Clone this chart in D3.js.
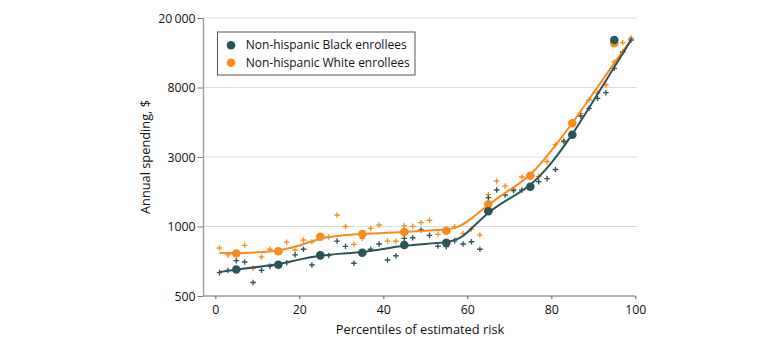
<!DOCTYPE html>
<html>
  <head>
    <meta charset="utf-8">
    <title>Annual spending by percentile of estimated risk</title>
    <script src="https://d3js.org/d3.v7.min.js" charset="utf-8"></script>
    <style>
      body{
        margin: 0;
        background: #fff;
        font-family: 'Open Sans', sans-serif;
      }
      svg text{
        font-family: 'Open Sans', sans-serif;
        fill: #111;
      }
    </style>
  </head>
  <body>
    <div id="chart"></div>
    <script>

    //********************
    // data
    //********************

    var xTicks = [0, 20, 40, 60, 80, 100];
    var yTicks = [500, 1000, 3000, 8000, 20000];
    var yTickLabels = ["500", "1000", "3000", "8000", "20\u2009000"];

    var seriesNames = ["Non-hispanic Black enrollees", "Non-hispanic White enrollees"];

    // percentile markers (+)
    var pctX = [1,3,5,7,9,11,13,15,17,19,21,23,25,27,29,31,33,35,37,39,41,43,45,47,49,
                51,53,55,57,59,61,63,65,67,69,71,73,75,77,79,81,83,85,87,89,91,93,95,97,99];
    var blackPct = [631,645,711,702,572,646,672,683,697,754,797,681,749,749,865,821,693,772,797,840,716,747,889,894,966,
                    916,823,818,867,840,859,797,1577,1781,1645,1767,1781,1838,2030,2132,2462,3723,4092,5351,5965,6869,7434,10304,12776,14966];
    var whitePct = [807,753,768,829,659,738,797,783,855,791,874,859,901,901,1199,1000,836,889,982,1024,865,863,1011,1003,1062,
                    1103,925,956,998,934,975,919,1656,2053,1897,1809,2187,2222,2208,2795,3569,3792,4847,5558,6706,7403,8268,11197,14441,15362];

    // decile means (dots)
    var decileX = [5, 15, 25, 35, 45, 55, 65, 75, 85, 95];
    var blackDecile = [651, 683, 750, 770, 832, 851, 1274, 1876, 4104, 14966];
    var whiteDecile = [764, 781, 903, 928, 947, 959, 1423, 2232, 4827, 14328];

    // smoothed curves
    var fitX = [1, 5, 10, 15, 20, 25, 30, 35, 40, 45, 50, 55, 58, 60, 65, 70, 75, 80, 85, 90, 95, 99];
    var blackFit = [635, 651, 668, 685, 720, 749, 764, 773, 799, 827, 840, 853, 883, 937, 1268, 1557, 1882, 2686, 4092, 6613, 10480, 14966];
    var whiteFit = [768, 765, 772, 783, 823, 892, 916, 928, 937, 947, 959, 968, 995, 1074, 1416, 1781, 2205, 3265, 4813, 7403, 11050, 14966];

    var colors = ["#2c5357", "#fb8a1c"];


    //********************
    // setup, scales
    //********************

    var width = 780,
        height = 351;

    var svg = d3.select("#chart").append("svg").attr("width", width).attr("height", height);

    var xScale = d3.scaleLinear().domain([0, 100]).range([215.3, 635.3]);

    // axis ticks are evenly spaced, so the log scale is piecewise between ticks
    var yScale = d3.scaleLog().domain(yTicks).range([296, 226.5, 157, 87.5, 18]);

    var axisLeftX = 203.5;


    // gridlines
    svg.append("g").selectAll("line.grid")
        .data(yTicks.slice(1))
        .enter().append("line")
        .attr("class", "grid")
        .attr("x1", axisLeftX)
        .attr("x2", 637)
        .attr("y1", d => yScale(d))
        .attr("y2", d => yScale(d))
        .attr("stroke", "#dcdcdc")
        .attr("stroke-width", 1);


    //**************
    // axes
    //**************

    var yAxis = svg.append("g").attr("class", "y-axis")
        .attr("transform", `translate(${axisLeftX},0)`)
        .call(d3.axisLeft(yScale)
            .tickValues(yTicks)
            .tickFormat((d, i) => yTickLabels[i])
            .tickSize(6)
            .tickPadding(2));

    yAxis.select(".domain").remove();
    yAxis.selectAll(".tick line").attr("stroke", "#777");
    yAxis.selectAll(".tick text").style("font-size", "12.3px").attr("dy", "0.36em");

    svg.append("line")
        .attr("x1", axisLeftX).attr("x2", axisLeftX)
        .attr("y1", yScale(20000)).attr("y2", yScale(500))
        .attr("stroke", "#999").attr("stroke-width", 1.3);

    var xAxis = svg.append("g").attr("class", "x-axis")
        .attr("transform", `translate(0,${yScale(500)})`)
        .call(d3.axisBottom(xScale)
            .tickValues(xTicks)
            .tickSize(3)
            .tickPadding(6));

    xAxis.select(".domain").remove();
    xAxis.selectAll(".tick line").attr("stroke", "#555");
    xAxis.selectAll(".tick text").style("font-size", "12.3px");

    svg.append("line")
        .attr("x1", axisLeftX).attr("x2", xScale(100))
        .attr("y1", yScale(500)).attr("y2", yScale(500))
        .attr("stroke", "#666").attr("stroke-width", 1);

    svg.append("text")
        .attr("x", 420)
        .attr("y", 334)
        .attr("text-anchor", "middle")
        .style("font-size", "12.8px")
        .text("Percentiles of estimated risk");

    svg.append("text")
        .attr("transform", "translate(149.5,157) rotate(-90)")
        .attr("text-anchor", "middle")
        .style("font-size", "12.8px")
        .text("Annual spending, $");


    //**************
    // percentile markers
    //**************

    var cross = "M-2.8,0H2.8M0,-2.8V2.8";

    [whitePct, blackPct].forEach(function(vals, k) {
        svg.append("g").selectAll("path")
            .data(vals)
            .enter().append("path")
            .attr("transform", (d, i) => `translate(${xScale(pctX[i])},${yScale(d)})`)
            .attr("d", cross)
            .attr("fill", "none")
            .attr("stroke", colors[1 - k])
            .attr("stroke-width", 1.3);
    });


    //**************
    // smoothed lines
    //**************

    var line = d3.line()
        .curve(d3.curveBasis)
        .x((d, i) => xScale(fitX[i]))
        .y(d => yScale(d));

    [whiteFit, blackFit].forEach(function(vals, k) {
        svg.append("path")
            .datum(vals)
            .attr("fill", "none")
            .attr("stroke", colors[1 - k])
            .attr("stroke-width", 2)
            .attr("stroke-linejoin", "round")
            .attr("d", line);
    });


    //**************
    // decile dots
    //**************

    [whiteDecile, blackDecile].forEach(function(vals, k) {
        svg.append("g").selectAll("circle")
            .data(vals)
            .enter().append("circle")
            .attr("cx", (d, i) => xScale(decileX[i]))
            .attr("cy", d => yScale(d))
            .attr("r", 4.3)
            .attr("fill", colors[1 - k]);
    });


    //******
    //legend
    //******

    var legend = svg.append("g").attr("transform", "translate(217.5,32)");

    legend.append("rect")
        .attr("width", 197.5)
        .attr("height", 43)
        .attr("fill", "#fff")
        .attr("stroke", "#555")
        .attr("stroke-width", 1);

    legend.selectAll("circle")
        .data(seriesNames)
        .enter().append("circle")
        .attr("cx", 13.5)
        .attr("cy", (d, i) => 13.3 + i * 17.4)
        .attr("r", 4.3)
        .attr("fill", (d, i) => colors[i]);

    legend.selectAll("text")
        .data(seriesNames)
        .enter().append("text")
        .attr("x", 28.2)
        .attr("y", (d, i) => 17.4 + i * 17.4)
        .style("font-size", "12px")
        .text(d => d);

    </script>
  </body>
</html>
